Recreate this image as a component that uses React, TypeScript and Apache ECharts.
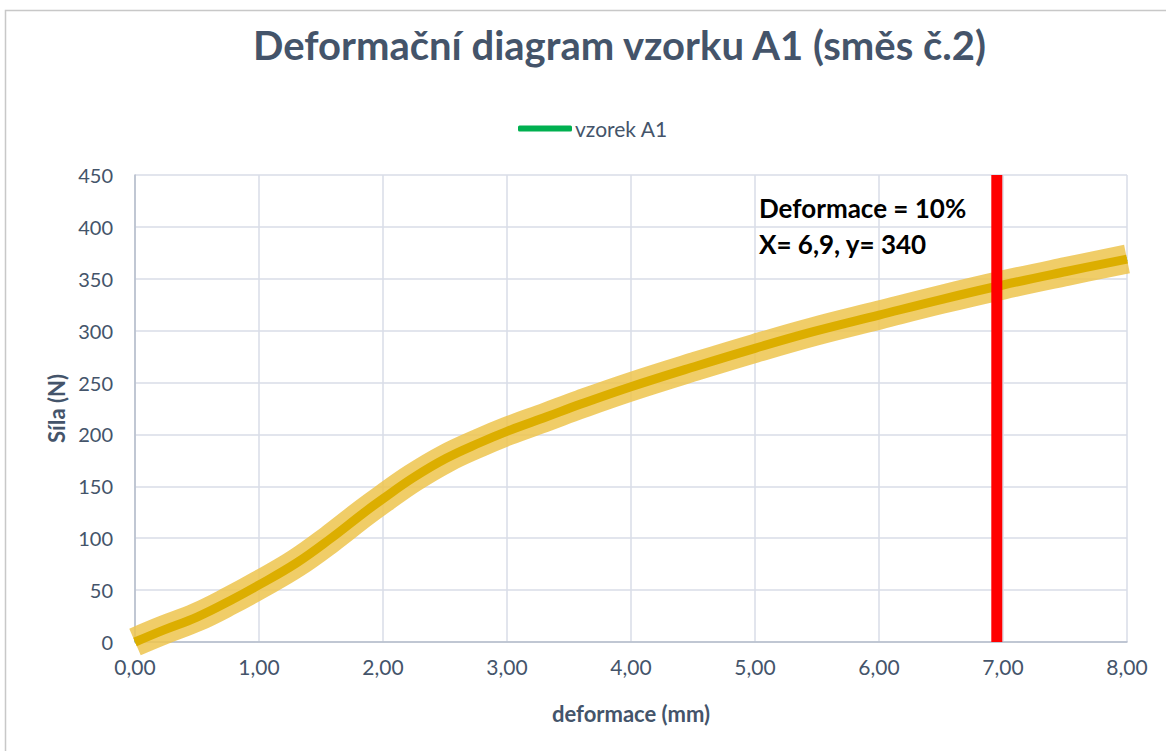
import React, { useEffect, useRef } from "react";
import * as echarts from "echarts";

const deformace = [0, 0.23, 0.5, 0.77, 1.0, 1.3, 1.57, 1.84, 2.0, 2.24, 2.51, 2.78, 3.0, 3.32, 3.59, 4.0, 4.53, 5.0, 5.47, 6.0, 6.5, 7.0, 7.51, 8.0];
const sila = [0, 11.5, 24, 40, 55, 76, 99, 124, 138, 158, 177, 192, 203, 217, 229, 246, 266, 283, 299, 315, 330, 344, 357, 369];
const redLineX = 6.95;
const annotation = ["Deformace = 10%", "X= 6,9, y= 340"];
const titleText = "Deformační diagram vzorku A1 (směs č.2)";
const seriesName = "vzorek A1";

export default function App() {
  const ref = useRef<HTMLDivElement>(null);
  useEffect(() => {
    const chart = echarts.init(ref.current!, undefined, { renderer: "svg" });
    const pts = deformace.map((x, i) => [x, sila[i]]);
    const font = "Lato, 'Open Sans', sans-serif";
    const textColor = "#44546a";
    chart.setOption({
      animation: false,
      backgroundColor: "#ffffff",
      textStyle: { fontFamily: font },
      title: {
        text: titleText,
        left: 248,
        top: 20,
        textStyle: { fontFamily: font, fontSize: 40, fontWeight: "bold", color: textColor },
      },
      legend: {
        data: [{ name: seriesName, icon: "roundRect" }],
        top: 113,
        left: 513,
        itemWidth: 54,
        itemHeight: 6,
        itemGap: 4,
        textStyle: { fontFamily: font, fontSize: 21, color: textColor, padding: [0, 0, 0, -2] },
      },
      grid: { left: 135, right: 39, top: 175, bottom: 109, containLabel: false },
      xAxis: {
        type: "value",
        min: 0,
        max: 8,
        interval: 1,
        name: "deformace (mm)",
        nameLocation: "middle",
        nameGap: 60,
        nameTextStyle: { fontFamily: font, fontSize: 22, fontWeight: "bold", color: textColor },
        axisLine: { show: true, lineStyle: { color: "#b4bcca", width: 1.5 } },
        axisTick: { show: false },
        splitLine: { show: true, lineStyle: { color: "#d9dde7", width: 1.5 } },
        axisLabel: {
          fontFamily: font,
          fontSize: 21,
          color: textColor,
          margin: 14,
          formatter: (v: number) => v.toFixed(2).replace(".", ","),
        },
      },
      yAxis: {
        type: "value",
        min: 0,
        max: 450,
        interval: 50,
        name: "Síla (N)",
        nameLocation: "middle",
        nameGap: 68,
        nameRotate: 90,
        nameTextStyle: { fontFamily: font, fontSize: 22, fontWeight: "bold", color: textColor },
        axisLine: { show: true, lineStyle: { color: "#b4bcca", width: 1.5 } },
        axisTick: { show: false },
        splitLine: { show: true, lineStyle: { color: "#d9dde7", width: 1.5 } },
        axisLabel: { fontFamily: font, fontSize: 20, color: textColor, margin: 22 },
      },
      series: [
        {
          name: seriesName,
          type: "line",
          data: pts,
          smooth: 0.4,
          showSymbol: false,
          symbol: "none",
          color: "#00b050",
          lineStyle: { color: "#00b050", width: 4 },
          z: 2,
        },
        {
          name: "band",
          type: "line",
          data: pts,
          smooth: 0.4,
          showSymbol: false,
          symbol: "none",
          lineStyle: { color: "rgba(237,196,78,0.85)", width: 29, cap: "butt" },
          z: 3,
          silent: true,
        },
        {
          name: "core",
          type: "line",
          data: pts,
          smooth: 0.4,
          showSymbol: false,
          symbol: "none",
          lineStyle: { color: "#dcae00", width: 9 },
          z: 4,
          silent: true,
        },
        {
          name: "limit",
          type: "line",
          data: [
            [redLineX, 0],
            [redLineX, 450],
          ],
          showSymbol: false,
          symbol: "none",
          lineStyle: { color: "#ff0000", width: 11, cap: "butt" },
          z: 5,
          silent: true,
        },
      ],
      graphic: [
        {
          type: "rect",
          shape: { x: 5.5, y: 10.5, width: 1200, height: 800 },
          style: { fill: "none", stroke: "#c8c8c8", lineWidth: 1.5 },
          silent: true,
          z: -1,
        },
        {
          type: "text",
          left: 759,
          top: 190,
          style: {
            text: annotation[0] + "\n" + annotation[1],
            fontFamily: font,
            fontSize: 26,
            fontWeight: "bold",
            fill: "#000000",
            lineHeight: 36,
          },
          z: 10,
        },
      ],
    });
    return () => chart.dispose();
  }, []);
  return (
    <div
      ref={ref}
      style={{ position: "absolute", left: 0, top: 0, width: 1166, height: 751 }}
    />
  );
}
